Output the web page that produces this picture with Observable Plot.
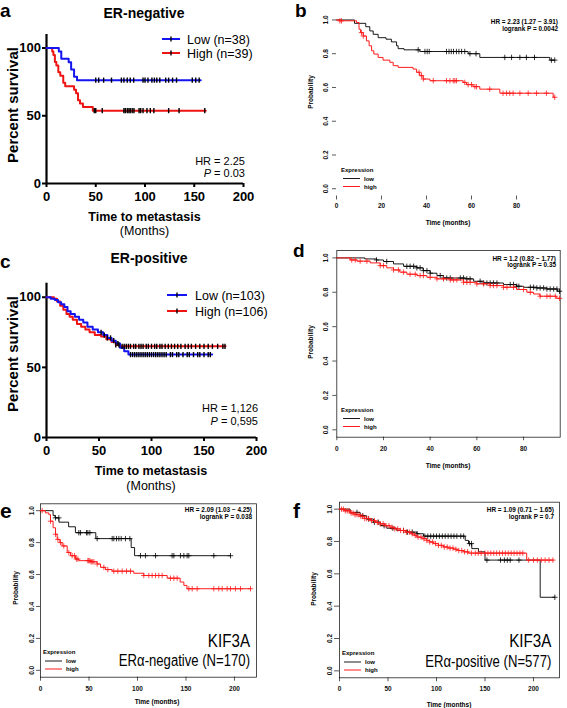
<!DOCTYPE html>
<html><head><meta charset="utf-8">
<script src="https://cdn.jsdelivr.net/npm/d3@7"></script>
<script src="https://cdn.jsdelivr.net/npm/@observablehq/plot@0.6"></script>
<style>
html,body{margin:0;padding:0;background:#fff;}
#fig{position:relative;width:567px;height:708px;overflow:hidden;background:#fff;}
</style></head><body><div id="fig"></div>
<script>
// ---------- Panel a : ER-negative (Percent survival) ----------
const aLowTime  = [0, 12.5, 15, 22.5, 25, 28, 31, 156.6];
const aLowSurv  = [100, 97.4, 92.1, 89.5, 84.2, 78.9, 76.3, 76.3];
const aHighTime = [0, 5.8, 7, 8.5, 10, 12, 14, 17, 19, 28, 30, 32, 34, 37, 47, 161.7];
const aHighSurv = [100, 97.4, 94.9, 89.7, 87.2, 82.1, 79.5, 74.4, 71.8, 69.2, 66.7, 61.5, 59.0, 56.4, 53.8, 53.8];
const aLowCens  = [50, 53, 58, 66, 76, 78.6, 82, 85, 88.5, 98, 100, 103, 107, 109.5, 112, 115, 121, 124, 128, 132, 148, 151.5, 155];
const aHighCens = [48.5, 50, 56.6, 78.6, 80, 82, 83.7, 85, 87, 88.8, 94, 95.6, 98, 102, 105.4, 109, 124, 134.6, 160.7];
const abTicksX = [0, 50, 100, 150, 200];
const abTicksY = [0, 50, 100];

// ---------- Panel c : ER-positive ----------
const cLowTime  = [0, 4, 8, 11, 14, 17, 20, 23, 27, 31, 35, 39, 44, 49, 54, 58, 62, 66, 70, 74, 78, 157.8];
const cLowSurv  = [100, 99, 98, 96.5, 95, 93, 90, 88, 86, 84, 82, 79, 77, 75, 73, 71, 69, 67, 64, 61.5, 59.1, 59.1];
const cHighTime = [0, 7, 10, 13, 16, 19, 22, 25, 29, 33, 37, 41, 46, 52, 57, 62, 66, 70, 170.5];
const cHighSurv = [100, 99, 97, 94, 91, 88, 86, 84, 81, 79, 77, 75, 73, 72, 70, 68, 66, 65, 65];
const cLowCens  = [52, 55, 58, 61, 64, 68, 80, 82, 84, 86, 88, 90, 92, 94, 96, 98, 100, 102, 104, 106, 108, 110, 112, 114, 118, 120, 124, 126, 130, 134, 136, 140, 144, 146, 150, 154, 156];
const cHighCens = [66, 69, 72, 74, 76, 78, 80, 83, 85, 88, 90, 92, 95, 97, 100, 103, 105, 108, 110, 113, 116, 119, 122, 125, 128, 132, 135, 138, 142, 146, 150, 154, 158, 163, 168, 170];

// ---------- Panel b : KM plotter ER-negative ----------
const bLowTime  = [0, 8, 13, 14.8, 16.3, 18.5, 22, 24.4, 26.7, 27.4, 30, 37, 58.5, 63.7, 94.8, 97];
const bLowSurv  = [1, 0.98, 0.96, 0.935, 0.915, 0.895, 0.886, 0.87, 0.847, 0.83, 0.823, 0.813, 0.80, 0.778, 0.762, 0.762];
const bHighTime = [0, 1.5, 8.9, 10, 10.7, 11.9, 13.3, 14.5, 15.6, 16.6, 18.5, 20.7, 23.7, 25.2, 27.4, 34, 35.6, 37, 38.5, 41.5, 56.3, 57.8, 60.7, 63.7, 72.6, 96.3, 97];
const bHighSurv = [1, 0.995, 0.985, 0.945, 0.925, 0.905, 0.876, 0.847, 0.817, 0.798, 0.778, 0.762, 0.749, 0.729, 0.719, 0.709, 0.69, 0.67, 0.65, 0.64, 0.63, 0.617, 0.605, 0.59, 0.566, 0.542, 0.542];
const bLowCens  = [36.3, 39.3, 40.3, 41.2, 48.9, 50, 51, 52, 53.3, 54.4, 55.6, 57, 59.3, 62, 74.8, 77.8, 81.5, 84.4, 88, 95.5, 97];
const bHighCens = [1.5, 2.2, 11.1, 11.9, 36.7, 37.8, 38.6, 43, 48.9, 50.4, 51.9, 52.6, 53.3, 57, 58.5, 60, 61.5, 62.2, 68.1, 74, 75.6, 77, 78.5, 81.5, 85.2, 88.9, 93.3, 97];
const bTicksX = [0, 20, 40, 60, 80];

// ---------- Panel d : KM plotter ER-positive ----------
const dLowTime  = [0, 12, 17, 20, 24.3, 28.6, 34.3, 37, 40, 42.9, 45.7, 55, 58.6, 62.9, 71.4, 77, 80, 85.7, 90, 94.5, 95.7];
const dLowSurv  = [1, 0.994, 0.988, 0.979, 0.965, 0.951, 0.942, 0.926, 0.911, 0.897, 0.883, 0.878, 0.864, 0.854, 0.845, 0.835, 0.829, 0.825, 0.819, 0.806, 0.806];
const dHighTime = [0, 5.7, 8.6, 14.3, 18.6, 21.4, 24.3, 27, 30, 34.3, 38.6, 42.9, 48.6, 54.3, 60, 65.7, 71.4, 77, 81.4, 84.3, 87, 94, 95.7];
const dHighSurv = [1, 0.988, 0.981, 0.971, 0.955, 0.942, 0.930, 0.917, 0.905, 0.897, 0.887, 0.878, 0.872, 0.858, 0.849, 0.839, 0.829, 0.816, 0.80, 0.79, 0.777, 0.765, 0.765];
const dLowCens  = [17, 21.4, 30, 31.4, 32.9, 34.3, 35.7, 37.1, 38.6, 40, 44.3, 45.7, 47.1, 48.6, 52.9, 54.3, 55.7, 57.1, 61.4, 62.9, 64.3, 65.7, 67.1, 68.6, 74.3, 75.7, 77.1, 78, 82.9, 84.3, 85.7, 87.1, 88.6, 90, 91.4, 92.9, 94.3, 95.4];
const dHighCens = [6.4, 7.9, 10, 12.9, 18.6, 20, 24.3, 26.4, 28.6, 31.4, 33.6, 35.7, 37.1, 40, 42.9, 45.7, 48.6, 50, 51.4, 54.3, 55.7, 57.1, 60, 62.9, 65.7, 67.1, 68.6, 71.4, 72.9, 75.7, 80, 82.9, 87.1, 90, 91.4, 93.6, 95.4];
const dTicksX = [0, 20, 40, 60, 80];

// ---------- Panel e : KIF3A ERα-negative ----------
const eLowTime  = [0, 13, 15, 19, 29, 36, 57, 93.5, 97, 196];
const eLowSurv  = [1, 0.97, 0.955, 0.928, 0.899, 0.862, 0.825, 0.769, 0.718, 0.718];
const eHighTime = [0, 5, 8.6, 10.3, 13, 15.5, 17.2, 20, 22.3, 27.5, 31, 36, 39.5, 51.5, 58.4, 61.9, 67, 73.9, 96.2, 106.5, 130.6, 144, 147.8, 151, 216.5];
const eHighSurv = [1, 0.986, 0.975, 0.934, 0.893, 0.852, 0.82, 0.80, 0.779, 0.738, 0.718, 0.697, 0.687, 0.68, 0.666, 0.645, 0.631, 0.621, 0.608, 0.594, 0.577, 0.553, 0.532, 0.511, 0.511];
const eLowCens  = [15.5, 18.9, 39.5, 41.2, 47.4, 48.8, 50.9, 58.4, 73.9, 75.6, 78.4, 80.8, 83.2, 87.6, 92.1, 103.1, 108.2, 118.6, 135.7, 137.5, 144.3, 147.8, 151.2, 152.9, 178.7, 195.9];
const eHighCens = [1.7, 10.3, 15.5, 17.9, 20.6, 24, 29.2, 32.6, 35, 37, 38.5, 48.8, 49.8, 50.9, 52.2, 53.3, 55, 58.4, 65.3, 69.4, 75.6, 79.7, 84.2, 88.7, 92.8, 106.5, 111.7, 115.1, 118.6, 122, 125.4, 134, 137.5, 140.9, 152.9, 156.4, 161.5, 178.7, 183.8, 187.3, 192.4, 195.9, 201, 206.2, 216.5];
const efTicksX = [0, 50, 100, 150, 200];

// ---------- Panel f : KIF3A ERα-positive ----------
const fLowTime  = [0, 11, 21.3, 28, 35, 42, 48.8, 59, 69.4, 79.7, 86.6, 129.6, 133, 136.4, 143.3, 150, 206.9, 222];
const fLowSurv  = [1, 0.98, 0.959, 0.939, 0.919, 0.898, 0.882, 0.868, 0.858, 0.848, 0.833, 0.807, 0.787, 0.756, 0.736, 0.685, 0.455, 0.455];
const fHighTime = [0, 5, 11, 16, 21.3, 26, 31.6, 37, 42, 47, 52, 57, 62.5, 68, 72.9, 77, 79.7, 85, 90, 93, 96.9, 102, 107.2, 112, 117.5, 122, 127.8, 133, 193, 220.6];
const fHighSurv = [1, 0.99, 0.976, 0.966, 0.955, 0.942, 0.929, 0.918, 0.909, 0.898, 0.888, 0.878, 0.868, 0.858, 0.848, 0.838, 0.827, 0.817, 0.807, 0.797, 0.787, 0.776, 0.766, 0.759, 0.752, 0.744, 0.736, 0.728, 0.685, 0.685];
const fLowCens  = [18, 24, 30, 36, 40, 46, 55, 66, 70, 75, 80, 88, 91, 94, 97, 100, 103, 106, 109, 112, 115, 118, 121, 125, 128, 134, 136, 152, 166, 170, 173, 176, 185, 222];
const fHighCens = [2, 4, 6, 8, 10, 12, 14, 16, 18, 20, 22, 24, 26, 28, 30, 33, 36, 39, 42, 45, 48, 51, 54, 57, 60, 63, 66, 69, 72, 75, 78, 81, 84, 87, 90, 93, 96, 99, 102, 105, 108, 111, 114, 117, 120, 123, 126, 129, 132, 136, 140, 143, 146, 150, 153, 156, 159, 162, 165, 168, 171, 174, 177, 180, 183, 186, 189, 195, 200, 204, 208, 212, 216, 220];

const probTicks = [0, 0.2, 0.4, 0.6, 0.8, 1.0];

// ---------- helpers ----------
const FONT = "'Liberation Sans', Arial, Helvetica, sans-serif";
const BLUE = "#1414f0", RED = "#ee1414", KRED = "#ff1a1a";
const steps = (T, S) => T.map((t, i) => ({t, s: S[i]}));
function survAt(T, S, t) { let v = S[0]; for (let i = 0; i < T.length; i++) if (T[i] <= t) v = S[i]; return v; }
const cens = (T, S, C) => C.map(t => ({t, s: survAt(T, S, t)}));
const vtick = {draw(ctx, size) { const r = Math.sqrt(size / Math.PI); ctx.moveTo(0, -r); ctx.lineTo(0, r); }};
const plus = {draw(ctx, size) { const r = Math.sqrt(size / Math.PI); ctx.moveTo(-r, 0); ctx.lineTo(r, 0); ctx.moveTo(0, -r); ctx.lineTo(0, r); }};
const fig = document.getElementById("fig");
function place(el, left, top) { el.style.position = "absolute"; el.style.left = left + "px"; el.style.top = top + "px"; fig.appendChild(el); }

// GraphPad-style panel (a, c)
function gpPanel(o) {
  return Plot.plot({
    width: o.width, height: o.height,
    marginLeft: o.ml, marginRight: o.mr, marginTop: o.mt, marginBottom: o.mb,
    x: {domain: [0, 200]}, y: {domain: [0, 110]},
    style: {font: `bold 13px ${FONT}`, color: "#000", background: "transparent", overflow: "visible"},
    marks: [
      Plot.ruleX([0], {strokeWidth: 2.2}),
      Plot.ruleY([0], {strokeWidth: 2.2}),
      Plot.axisX({ticks: abTicksX, tickSize: 4, tickPadding: 4, strokeWidth: 2, label: null}),
      Plot.axisY({ticks: abTicksY, tickSize: 4, tickPadding: 1.5, strokeWidth: 2, label: null}),
      Plot.line(steps(o.hT, o.hS), {x: "t", y: "s", curve: "step-after", stroke: RED, strokeWidth: 2}),
      Plot.line(steps(o.lT, o.lS), {x: "t", y: "s", curve: "step-after", stroke: BLUE, strokeWidth: 2}),
      Plot.dot(cens(o.hT, o.hS, o.hC), {x: "t", y: "s", symbol: vtick, r: 2.6, stroke: "#000", fill: "none", strokeWidth: 1.4}),
      Plot.dot(cens(o.lT, o.lS, o.lC), {x: "t", y: "s", symbol: vtick, r: 2.6, stroke: "#000", fill: "none", strokeWidth: 1.4})
    ]
  });
}

// KM-plotter-style panel (b, d, e, f)
function kmPanel(o) {
  return Plot.plot({
    width: o.width, height: o.height,
    marginLeft: o.ml, marginRight: o.mr, marginTop: o.mt, marginBottom: o.mb,
    x: {domain: [0, o.xmax]}, y: {domain: [-0.043, 1.043]},
    style: {font: `bold 6.5px ${FONT}`, color: "#111", background: "transparent", overflow: "visible"},
    marks: [
      o.frame ? Plot.frame({stroke: "#222", strokeWidth: 0.8}) : null,
      Plot.axisX({ticks: o.xticks, tickSize: o.tsx, tickPadding: o.tpx, strokeWidth: 0.7, label: null}),
      Plot.axisY({ticks: probTicks, tickFormat: d3.format(".1f"), tickRotate: -90, tickSize: o.tsy, tickPadding: o.tpy, strokeWidth: 0.7, label: null}),
      Plot.line(steps(o.lT, o.lS), {x: "t", y: "s", curve: "step-after", stroke: "#000", strokeWidth: 0.9}),
      Plot.dot(cens(o.lT, o.lS, o.lC), {x: "t", y: "s", symbol: plus, r: 2.7, stroke: "#000", fill: "none", strokeWidth: 0.8}),
      Plot.line(steps(o.hT, o.hS), {x: "t", y: "s", curve: "step-after", stroke: KRED, strokeWidth: 1}),
      Plot.dot(cens(o.hT, o.hS, o.hC), {x: "t", y: "s", symbol: plus, r: 2.7, stroke: KRED, fill: "none", strokeWidth: 0.8})
    ]
  });
}

place(gpPanel({width: 283, height: 235, ml: 46, mr: 40, mt: 34, mb: 52,
  lT: aLowTime, lS: aLowSurv, hT: aHighTime, hS: aHighSurv, lC: aLowCens, hC: aHighCens}), 0, 0);
place(gpPanel({width: 283, height: 245, ml: 46, mr: 27, mt: 47.7, mb: 43,
  lT: cLowTime, lS: cLowSurv, hT: cHighTime, hS: cHighSurv, lC: cLowCens, hC: cHighCens}), 0, 235);

place(kmPanel({width: 284, height: 230, ml: 53, mr: 10.5, mt: 12.2, mb: 34.5, xmax: 98, xticks: bTicksX, frame: false,
  tsx: 4, tpx: 3, tsy: 4, tpy: 5,
  lT: bLowTime, lS: bLowSurv, hT: bHighTime, hS: bHighSurv, lC: bLowCens, hC: bHighCens}), 283, 0);
place(kmPanel({width: 284, height: 240, ml: 53.3, mr: 7.3, mt: 20, mb: 33.3, xmax: 95.7, xticks: dTicksX, frame: true,
  tsx: 3.5, tpx: 5.5, tsy: 4, tpy: 5,
  lT: dLowTime, lS: dLowSurv, hT: dHighTime, hS: dHighSurv, lC: dLowCens, hC: dHighCens}), 283, 230);
place(kmPanel({width: 283, height: 238, ml: 40, mr: 27, mt: 33.3, mb: 31.3, xmax: 222.7, xticks: efTicksX, frame: true,
  tsx: 4, tpx: 5, tsy: 4, tpy: 3,
  lT: eLowTime, lS: eLowSurv, hT: eHighTime, hS: eHighSurv, lC: eLowCens, hC: eHighCens}), 0, 470);
place(kmPanel({width: 284, height: 238, ml: 56, mr: 8, mt: 31.7, mb: 30.7, xmax: 226.8, xticks: efTicksX, frame: true,
  tsx: 4, tpx: 5, tsy: 5, tpy: 3,
  lT: fLowTime, lS: fLowSurv, hT: fHighTime, hS: fHighSurv, lC: fLowCens, hC: fHighCens}), 283, 470);

// ---------- overlay: titles, labels, legends, annotations ----------
const ov = d3.create("svg").attr("width", 567).attr("height", 708)
  .style("position", "absolute").style("left", "0px").style("top", "0px").style("pointer-events", "none");
fig.appendChild(ov.node());
function txt(x, y, s, o = {}) {
  const t = ov.append("text").text(s)
    .attr("font-family", FONT).attr("font-size", o.size || 10).attr("font-weight", o.weight || "normal")
    .attr("text-anchor", o.anchor || "start").attr("fill", o.fill || "#000");
  if (o.sx) t.attr("transform", `translate(${x},${y}) scale(${o.sx},1)`);
  else if (o.rotate) t.attr("transform", `translate(${x},${y}) rotate(${o.rotate})`);
  else t.attr("x", x).attr("y", y);
  return t;
}
function seg(x1, x2, y1, y2, color, w) {
  ov.append("line").attr("x1", x1).attr("x2", x2).attr("y1", y1).attr("y2", y2).attr("stroke", color).attr("stroke-width", w);
}
function hrP(x, y, pval) {
  const t = ov.append("text").attr("x", x).attr("y", y).attr("font-family", FONT).attr("font-size", 11).attr("text-anchor", "end");
  t.append("tspan").attr("font-style", "italic").text("P");
  t.append("tspan").text(" = " + pval);
}

// panel letters
txt(0, 16.5, "a", {size: 19, weight: "bold"});
txt(295, 16.5, "b", {size: 19, weight: "bold"});
txt(0, 268, "c", {size: 19, weight: "bold"});
txt(293, 257, "d", {size: 19, weight: "bold"});
txt(0, 518, "e", {size: 21, weight: "bold"});
txt(293, 518, "f", {size: 21, weight: "bold"});

// panel a
txt(144, 17.5, "ER-negative", {size: 14, weight: "bold", anchor: "middle"});
txt(17.5, 105, "Percent survival", {size: 15, weight: "bold", anchor: "middle", rotate: -90});
seg(162, 180, 39, 39, BLUE, 2); seg(171, 171, 36.5, 41.5, "#000", 1.4);
seg(162, 180, 53, 53, RED, 2);  seg(171, 171, 50.5, 55.5, "#000", 1.4);
txt(187, 43.5, "Low (n=38)", {size: 12.5});
txt(187, 57.5, "High (n=39)", {size: 12.5});
txt(245, 165, "HR = 2.25", {size: 11, anchor: "end"});
hrP(245, 177, "0.03");
txt(144.5, 221, "Time to metastasis", {size: 12.5, weight: "bold", anchor: "middle"});
txt(144.5, 235, "(Months)", {size: 12.5, anchor: "middle"});

// panel c
txt(149, 262.7, "ER-positive", {size: 14, weight: "bold", anchor: "middle"});
txt(17.5, 354, "Percent survival", {size: 15, weight: "bold", anchor: "middle", rotate: -90});
seg(167, 187, 295, 295, BLUE, 2); seg(177, 177, 292.5, 297.5, "#000", 1.4);
seg(167, 187, 311, 311, RED, 2);  seg(177, 177, 308.5, 313.5, "#000", 1.4);
txt(195, 299.5, "Low (n=103)", {size: 12.5});
txt(195, 315.5, "High (n=106)", {size: 12.5});
txt(258, 412, "HR = 1,126", {size: 11, anchor: "end"});
hrP(258, 425, "0,595");
txt(151, 475, "Time to metastasis", {size: 12.5, weight: "bold", anchor: "middle"});
txt(151, 489.5, "(Months)", {size: 12.5, anchor: "middle"});

// KM-plotter annotations
function kmText(o) {
  txt(o.hrx, o.hry, o.hr, {size: 6.4, weight: "bold", anchor: "end"});
  txt(o.hrx, o.hry + 6.5, o.lr, {size: 6.4, weight: "bold", anchor: "end"});
  txt(o.lx, o.ly, "Expression", {size: 6, weight: "bold"});
  seg(o.lx + 2, o.lx + 19, o.ly + 7, o.ly + 7, "#000", 0.9);
  seg(o.lx + 2, o.lx + 19, o.ly + 15, o.ly + 15, KRED, 1);
  txt(o.lx + 23, o.ly + 9, "low", {size: 6, weight: "bold"});
  txt(o.lx + 23, o.ly + 17, "high", {size: 6, weight: "bold"});
  txt(o.px, o.py, "Probability", {size: 6.5, weight: "bold", anchor: "middle", rotate: -90});
  txt(o.tx, o.ty, "Time (months)", {size: 6.5, weight: "bold", anchor: "middle"});
}
kmText({hrx: 558, hry: 24, hr: "HR = 2.23 (1.27 − 3.91)", lr: "logrank P = 0.0042", lx: 341, ly: 171.5, px: 312.5, py: 92, tx: 448, ty: 224.5});
kmText({hrx: 556, hry: 260.5, hr: "HR = 1.2 (0.82 − 1.77)", lr: "logrank P = 0.35", lx: 341, ly: 411.5, px: 312.5, py: 342, tx: 448, ty: 468});
kmText({hrx: 252, hry: 512, hr: "HR = 2.09 (1.03 − 4.25)", lr: "logrank P = 0.038", lx: 43, ly: 654, px: 17.5, py: 588, tx: 157, ty: 704});
kmText({hrx: 554, hry: 512, hr: "HR = 1.09 (0.71 − 1.65)", lr: "logrank P = 0.7", lx: 342, ly: 655, px: 315.5, py: 589, tx: 449, ty: 706.5});

txt(250, 646.5, "KIF3A", {size: 18.5, anchor: "end", sx: 0.82});
txt(250, 666, "ERα-negative (N=170)", {size: 16, anchor: "end", sx: 0.82});
txt(551.3, 646.5, "KIF3A", {size: 18.5, anchor: "end", sx: 0.82});
txt(551.3, 666.5, "ERα-positive (N=577)", {size: 16, anchor: "end", sx: 0.82});
</script></body></html>
